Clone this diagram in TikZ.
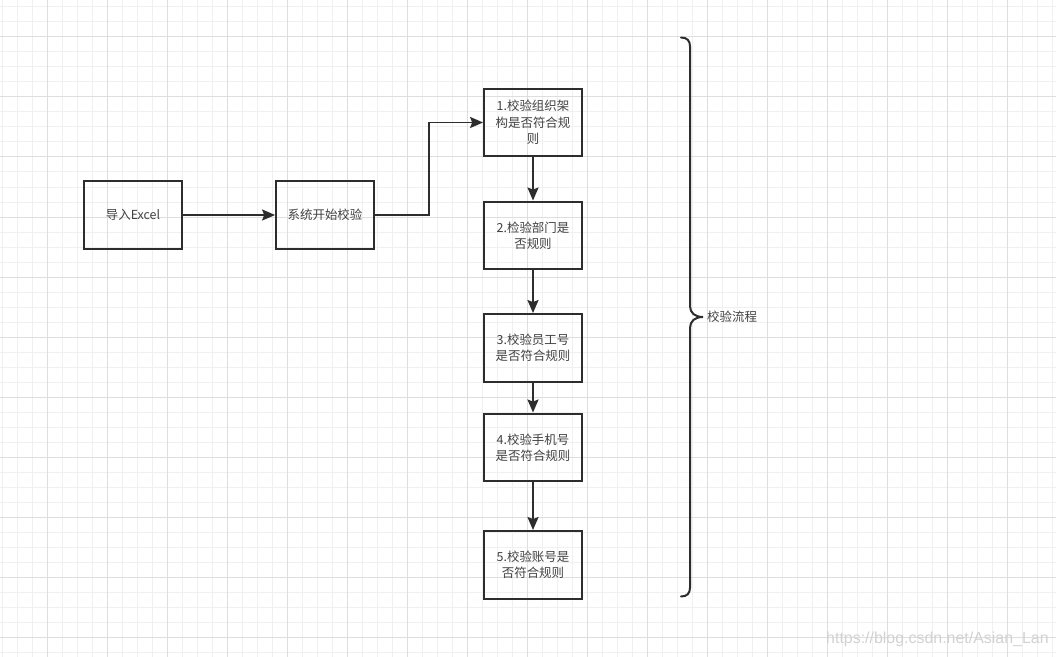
\documentclass[tikz,border=0pt]{standalone}
\usepackage{fontspec}
\setmainfont{Noto Sans CJK SC}
\newfontfamily\markfont{Liberation Sans}
\usetikzlibrary{arrows.meta}
\definecolor{gridMinor}{RGB}{240,240,240}
\definecolor{gridMajor}{RGB}{222,222,222}
\definecolor{lineDark}{RGB}{45,45,45}
\definecolor{textGray}{RGB}{65,65,65}

\begin{document}
\begin{tikzpicture}[
  x=1bp, y=-1bp,
  font=\fontsize{12.5}{16.5}\selectfont,
  box/.style={draw=lineDark, line width=2.2pt, align=center, text=textGray,
    minimum width=98pt, minimum height=68pt, inner sep=2pt},
  ar/.style={-{Stealth[length=13pt, width=11pt, inset=2pt]}, line width=2pt, draw=lineDark},
  gridline/.style={line width=1bp}
]
  \useasboundingbox[fill=white] (0,0) rectangle (1056,657);
  % grid background
  \foreach \gx in {2,17,...,1056} \draw[gridline, gridMinor] (\gx,0) -- (\gx,657);
  \foreach \gy in {7,22,...,657} \draw[gridline, gridMinor] (0,\gy) -- (1056,\gy);
  \foreach \gx in {47,107,...,1056} \draw[gridline, gridMajor] (\gx,0) -- (\gx,657);
  \foreach \gy in {37,97,...,657} \draw[gridline, gridMajor] (0,\gy) -- (1056,\gy);

  \node[box] (imp) at (133, 215) {导入Excel};
  \node[box] (start) at (325, 215) {系统开始校验};
  \node[box] (org) at (533, 122.5) {1.校验组织架\\构是否符合规\\则};
  \node[box] (dept) at (533, 235.5) {2.检验部门是\\否规则};
  \node[box] (staff) at (533, 348) {3.校验员工号\\是否符合规则};
  \node[box] (phone) at (533, 447.5) {4.校验手机号\\是否符合规则};
  \node[box] (acct) at (533, 565) {5.校验账号是\\否符合规则};

  \draw[ar] (imp.east) -- (start.west);
  \draw[ar] (start.east) -- ++(54,0) |- (org.west);
  \draw[ar] (org) -- (dept);
  \draw[ar] (dept) -- (staff);
  \draw[ar] (staff) -- (phone);
  \draw[ar] (phone) -- (acct);

  % brace
  \coordinate (btop) at (681, 37.5);
  \coordinate (btip) at (703, 317);
  \coordinate (bbot) at (681, 596.5);
  \draw[line width=2pt, draw=lineDark, line cap=round]
    (btop) .. controls (687,37.5) and (690,40.5) .. (690,46.5)
    -- (690,306) .. controls (690,313) and (695,317) .. (btip)
    .. controls (695,317) and (690,321) .. (690,328)
    -- (690,587.5) .. controls (690,593.5) and (687,596.5) .. (bbot);
  \node[anchor=west, text=textGray, inner sep=0pt] (flow) at (707, 317) {校验流程};

  \node[anchor=west, inner sep=0pt, text=gray!35, font=\markfont\fontsize{16}{18}\selectfont] (mark) at (826, 639) {https://blog.csdn.net/Asian\_Lan};
\end{tikzpicture}
\end{document}
